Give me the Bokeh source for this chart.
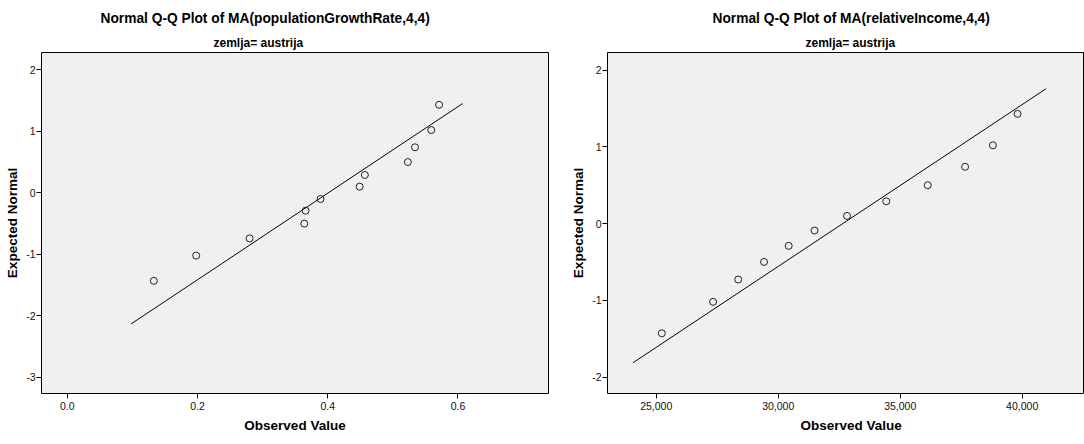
from bokeh.plotting import figure
from bokeh.models import Title, FixedTicker, NumeralTickFormatter, PrintfTickFormatter, Range1d
from bokeh.layouts import row
from bokeh.embed import file_html
from bokeh.resources import INLINE

# ---- left panel: MA(populationGrowthRate,4,4)
pg_observed = [0.133, 0.198, 0.280, 0.364, 0.366, 0.389, 0.449, 0.457, 0.523, 0.534, 0.559, 0.571]
pg_expected = [-1.43, -1.02, -0.74, -0.50, -0.29, -0.10, 0.10, 0.29, 0.50, 0.74, 1.02, 1.43]
pg_line_x = [0.098, 0.607]
pg_line_y = [-2.13, 1.45]
pg_xticks = [0.0, 0.2, 0.4, 0.6]
pg_yticks = [-3, -2, -1, 0, 1, 2]

# ---- right panel: MA(relativeIncome,4,4)
ri_observed = [25230, 27330, 28360, 29420, 30430, 31490, 32820, 34430, 36130, 37660, 38800, 39810]
ri_expected = [-1.43, -1.02, -0.73, -0.50, -0.29, -0.09, 0.10, 0.29, 0.50, 0.74, 1.02, 1.43]
ri_line_x = [24044, 40984]
ri_line_y = [-1.815, 1.759]
ri_xticks = [25000, 30000, 35000, 40000]
ri_yticks = [-2, -1, 0, 1, 2]

FONT = "Liberation Sans"
H = 444


def title_obj(text, size, standoff, offset):
    if offset is None:
        return Title(text=text, align="center", standoff=standoff,
                     text_font=FONT, text_font_size=size, text_font_style="bold",
                     text_color="black")
    return Title(text=text, align="left", offset=offset, standoff=standoff,
                 text_font=FONT, text_font_size=size, text_font_style="bold",
                 text_color="black")


def panel(width, xr, yr, xticks, yticks, xfmt, title, sub_off, main_off, lab_off,
          mbl, mbr, obs, exp, lx, ly):
    p = figure(width=width, height=H, x_range=Range1d(*xr), y_range=Range1d(*yr),
               output_backend="svg", toolbar_location=None, title=None,
               min_border_left=mbl, min_border_right=mbr,
               min_border_top=52, min_border_bottom=H - 393)
    p.background_fill_color = "#F0F0F0"
    p.border_fill_color = "white"
    p.outline_line_color = "black"
    p.outline_line_width = 1
    p.grid.visible = False

    for ax in (p.xaxis, p.yaxis):
        ax.axis_line_color = None
        ax.major_tick_out = 5
        ax.major_tick_in = 0
        ax.minor_tick_out = 0
        ax.minor_tick_in = 0
        ax.major_tick_line_color = "black"
        ax.major_label_text_font = FONT
        ax.major_label_text_font_size = "10.5px"
        ax.major_label_text_color = "#111111"

    p.xaxis.ticker = FixedTicker(ticks=xticks)
    p.xaxis.formatter = NumeralTickFormatter(format=xfmt)
    p.xaxis.major_label_standoff = 3
    p.yaxis.ticker = FixedTicker(ticks=yticks)
    p.yaxis.formatter = PrintfTickFormatter(format="%d")
    p.yaxis.major_label_standoff = 1
    p.yaxis.axis_label = "Expected Normal"
    p.yaxis.axis_label_text_font = FONT
    p.yaxis.axis_label_text_font_size = "13.5px"
    p.yaxis.axis_label_text_font_style = "bold"
    p.yaxis.axis_label_text_color = "black"
    p.yaxis.axis_label_standoff = 3

    p.add_layout(title_obj("zemlja= austrija", "12px", 5, sub_off), "above")
    p.add_layout(title_obj(title, "13.75px", 12, main_off), "above")
    p.add_layout(title_obj("Observed Value", "13.5px", 7, lab_off), "below")

    p.line(lx, ly, line_color="black", line_width=1)
    p.scatter(obs, exp, marker="circle", size=7, fill_color=None,
              line_color="#222222", line_width=1)
    return p


p1 = panel(560, (-0.0395, 0.739), (-3.26, 2.28), pg_xticks, pg_yticks, "0.0",
           "Normal Q-Q Plot of MA(populationGrowthRate,4,4)", 172, 59, None, 41, 12,
           pg_observed, pg_expected, pg_line_x, pg_line_y)
p2 = panel(524, (23003, 42514), (-2.215, 2.23), ri_xticks, ri_yticks, "0,0",
           "Normal Q-Q Plot of MA(relativeIncome,4,4)", 198, 105, 193, 47, 1,
           ri_observed, ri_expected, ri_line_x, ri_line_y)

layout = row(p1, p2)
open("out.html", "w").write(file_html(layout, INLINE))
